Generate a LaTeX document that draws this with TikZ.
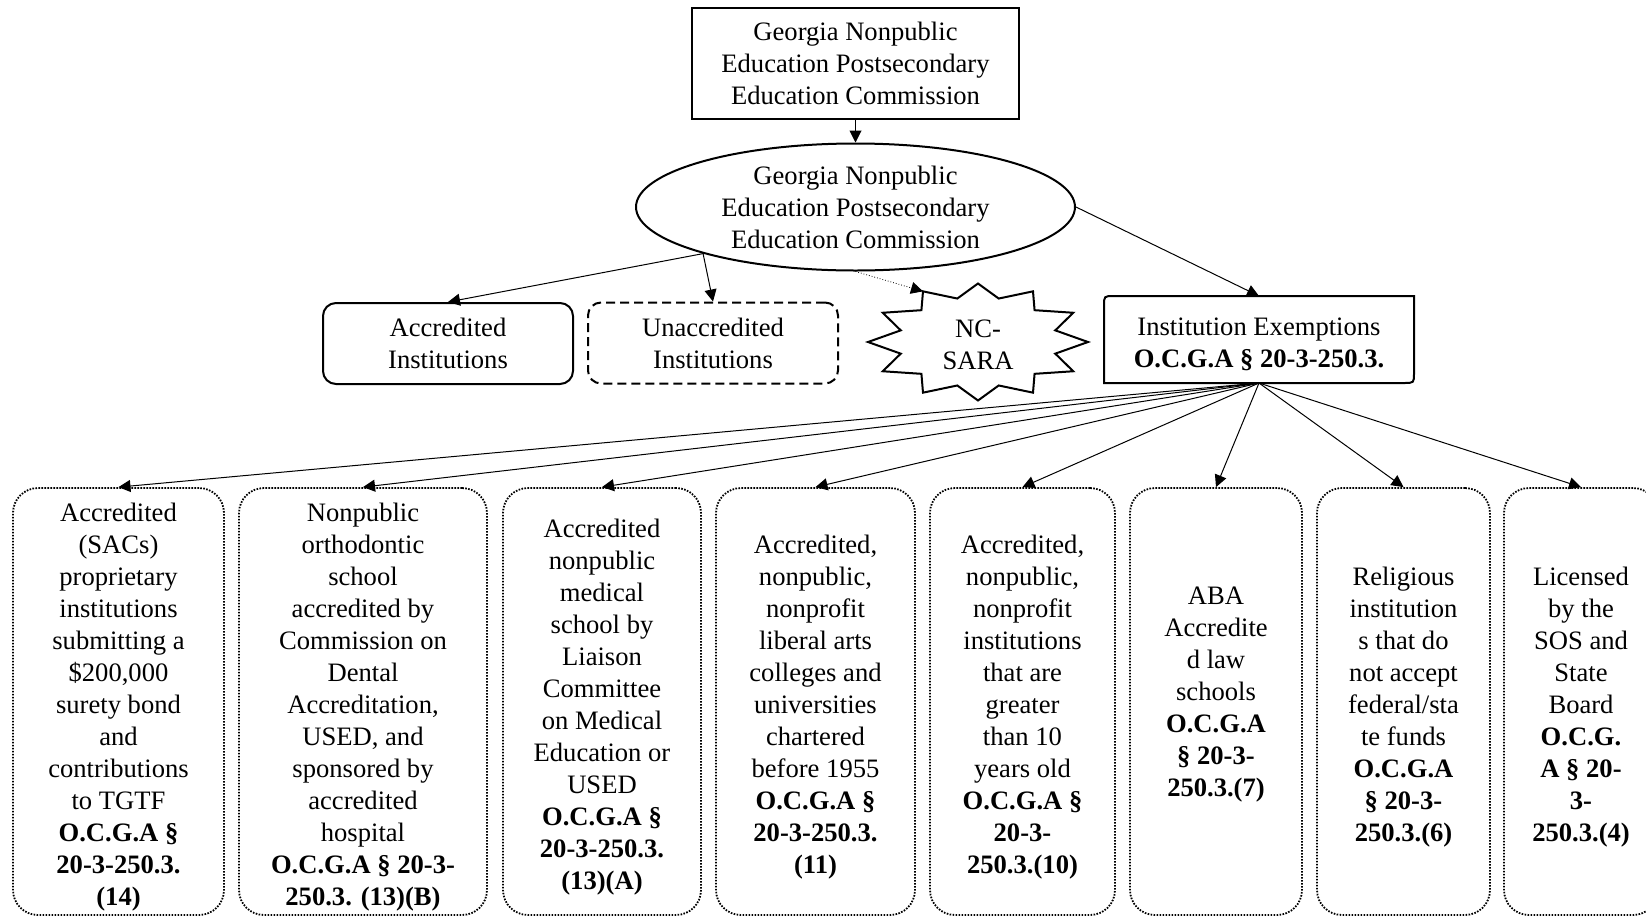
\documentclass[tikz,border=0pt]{standalone}
\usepackage{fontspec}
\setmainfont{Liberation Serif}
\usepackage{tikz}
\usetikzlibrary{arrows.meta,calc,shapes.geometric}
\newcommand{\textlift}[1]{\rule{0pt}{#1}}

\begin{document}
\begin{tikzpicture}[x=0.5pt, y=-0.5pt, line width=1pt,
		every node/.style={font=\fontsize{13.3}{16}\selectfont, align=center},
		arr/.style={-{Triangle[length=6pt,width=6pt]}, line width=0.5pt},
		instbox/.style={draw, rounded corners=6.5pt, minimum width=125pt, minimum height=40.5pt},
		exbox/.style={draw, line width=0.9pt, dash pattern=on 0.8pt off 0.7pt, rounded corners=12.5pt, inner ysep=0pt, minimum height=213.5pt}]
		\useasboundingbox (0,0) rectangle (1646,917);
		\clip (0,0) rectangle (1646,917);
		% commission
		\node[draw, minimum width=163.5pt, minimum height=55.5pt] (gnpec) at (855.5,63.5) {Georgia Nonpublic\\Education Postsecondary\\Education Commission};
		\node[draw, ellipse, inner sep=0pt, minimum width=219.5pt, minimum height=63.5pt] (board) at (855.5,207) {Georgia Nonpublic\\Education Postsecondary\\Education Commission};
		% institutions
		\node[instbox] (acc) at (448,343.5) {Accredited\\Institutions};
		\node[instbox, dash pattern=on 4.5pt off 2.5pt] (unacc) at (713,343) {Unaccredited\\Institutions};
		% NC-SARA star
		\node (sara) at (978,342) {\textlift{11.7pt}NC-\\SARA};
		\draw ($(sara)+(0:110 and 58.5)$)
			\foreach \a in {0,30,...,300} {-- ($(sara)+(\a+15:80 and 45)$) -- ($(sara)+(\a+30:110 and 58.5)$)}
			-- ($(sara)+(345:80 and 45)$) -- cycle;
		\coordinate (saratip) at ($(sara)+(240:110 and 58.5)$);
		% exemptions
		\node[minimum width=154pt, minimum height=42.5pt] (ie) at (1259,339.5) {\textlift{13.5pt}Institution Exemptions\\\textbf{O.C.G.A § 20-3-250.3.}};
		\draw ($(ie.north west)+(10,0)$) -- (ie.north east) -- ($(ie.south east)+(0,-10)$)
			.. controls (ie.south east) .. ($(ie.south east)+(-10,0)$) -- (ie.south west)
			-- ($(ie.north west)+(0,10)$) .. controls (ie.north west) .. ($(ie.north west)+(10,0)$) -- cycle;
		% exemption types
		\node[exbox, minimum width=105.5pt] (sacs) at (118.5,701.5) {\textlift{15pt}Accredited\\(SACs)\\proprietary\\institutions\\submitting a\\\$200,000\\surety bond\\and\\contributions\\to TGTF\\\textbf{O.C.G.A §}\\\textbf{20-3-250.3.}\\\textbf{(14)}};
		\node[exbox, minimum width=124pt] (ortho) at (363,701.5) {\textlift{15pt}Nonpublic\\orthodontic\\school\\accredited by\\Commission on\\Dental\\Accreditation,\\USED, and\\sponsored by\\accredited\\hospital\\\textbf{O.C.G.A § 20-3-}\\\textbf{250.3. (13)(B)}};
		\node[exbox, minimum width=99pt] (med) at (602,701.5) {\textlift{15pt}Accredited\\nonpublic\\medical\\school by\\Liaison\\Committee\\on Medical\\Education or\\USED\\\textbf{O.C.G.A §}\\\textbf{20-3-250.3.}\\\textbf{(13)(A)}};
		\node[exbox, minimum width=99.5pt] (libarts) at (815.5,701.5) {\textlift{15pt}Accredited,\\nonpublic,\\nonprofit\\liberal arts\\colleges and\\universities\\chartered\\before 1955\\\textbf{O.C.G.A §}\\\textbf{20-3-250.3.}\\\textbf{(11)}};
		\node[exbox, minimum width=92.5pt] (nonprof) at (1022.5,701.5) {\textlift{15pt}Accredited,\\nonpublic,\\nonprofit\\institutions\\that are\\greater\\than 10\\years old\\\textbf{O.C.G.A §}\\\textbf{20-3-}\\\textbf{250.3.(10)}};
		\node[exbox, minimum width=86pt] (law) at (1216,701.5) {\textlift{15pt}ABA\\Accredite\\d law\\schools\\\textbf{O.C.G.A}\\\textbf{§ 20-3-}\\\textbf{250.3.(7)}\\\mbox{}};
		\node[exbox, minimum width=86.5pt] (relig) at (1403.5,701.5) {\textlift{15pt}Religious\\institution\\s that do\\not accept\\federal/sta\\te funds\\\textbf{O.C.G.A}\\\textbf{§ 20-3-}\\\textbf{250.3.(6)}};
		\node[exbox, minimum width=77pt] (sos) at (1581,701.5) {\textlift{15pt}Licensed\\by the\\SOS and\\State\\Board\\\textbf{O.C.G.}\\\textbf{A § 20-}\\\textbf{3-}\\\textbf{250.3.(4)}};
		% arrows
		\draw[arr] (gnpec) -- (board);
		\draw[arr] (board.197) -- (acc.north);
		\draw[arr] (board.197) -- (unacc.north);
		\draw[arr, line width=0.4pt, densely dotted] (board.south) -- (saratip);
		\draw[arr] (board.east) -- (ie.north);
		\foreach \b in {sacs,ortho,med,libarts,nonprof,law,relig,sos}
			\draw[arr] (ie.south) -- (\b.north);
	\end{tikzpicture}
\end{document}
